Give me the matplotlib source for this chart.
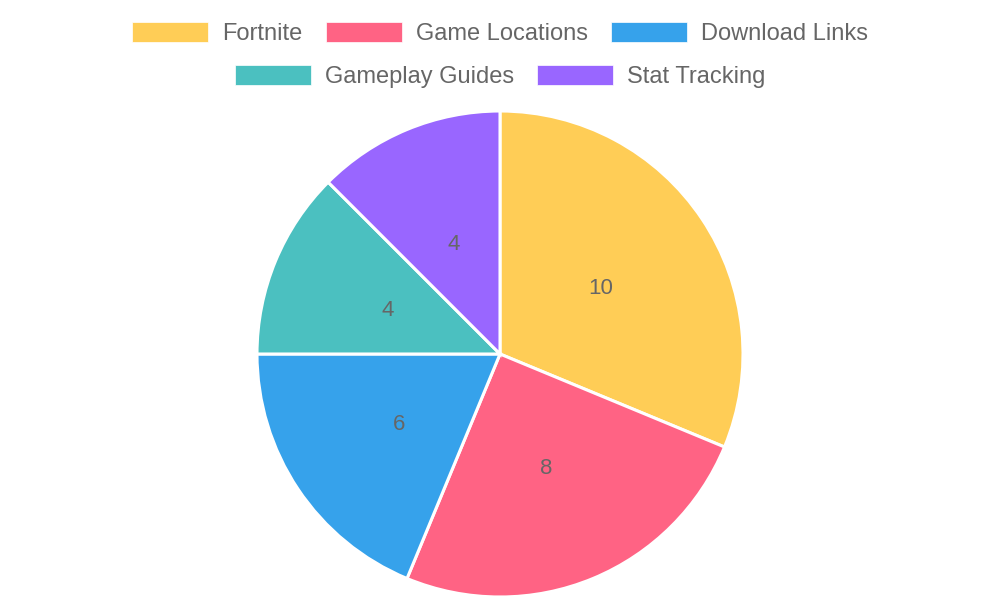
import matplotlib
matplotlib.use('Agg')
import matplotlib.pyplot as plt
from matplotlib.patches import Rectangle

labels = ['Fortnite', 'Game Locations', 'Download Links', 'Gameplay Guides', 'Stat Tracking']
values = [10, 8, 6, 4, 4]
colors = ['#FFCD56', '#FF6384', '#36A2EB', '#4BC0C0', '#9966FF']
legend_rows = [[0, 1, 2], [3, 4]]

plt.rcParams['font.family'] = ['Liberation Sans', 'DejaVu Sans']
W, H = 1000, 600
fig = plt.figure(figsize=(10, 6), dpi=100)

# pie axes (pixel based placement)
cx, cy, r = 500, 354, 243
ax = fig.add_axes([(cx - r) / W, (H - cy - r) / H, 2 * r / W, 2 * r / H])
wedges, texts = ax.pie(values, colors=colors, startangle=90, counterclock=False,
                       labels=[str(v) for v in values], labeldistance=0.5,
                       wedgeprops=dict(edgecolor='white', linewidth=2.2, clip_on=False),
                       textprops=dict(color='#666666', fontsize=16, ha='center',
                                      va='center_baseline'))
ax.set_xlim(-1, 1)
ax.set_ylim(-1, 1)
ax.set_aspect('equal')

# legend laid out like chart.js: each row centred
fs = 17
box_w, box_h, gap_txt, gap_item = 76, 20, 14, 23
row_y = [32, 75]
renderer = fig.canvas.get_renderer()
for row, ry in zip(legend_rows, row_y):
    widths = []
    for i in row:
        t = fig.text(0, 0, labels[i], fontsize=fs)
        widths.append(t.get_window_extent(renderer).width)
        t.remove()
    total = sum(box_w + gap_txt + w for w in widths) + gap_item * (len(row) - 1)
    x = (W - total) / 2
    for i, w in zip(row, widths):
        fig.patches.append(Rectangle((x / W, (H - ry - box_h / 2) / H), box_w / W, box_h / H,
                                     transform=fig.transFigure, facecolor=colors[i],
                                     edgecolor='white', linewidth=0.5))
        fig.text((x + box_w + gap_txt) / W, (H - ry) / H, labels[i], fontsize=fs,
                 color='#666666', va='center_baseline', ha='left')
        x += box_w + gap_txt + w + gap_item

fig.savefig('out.png', dpi=100)
